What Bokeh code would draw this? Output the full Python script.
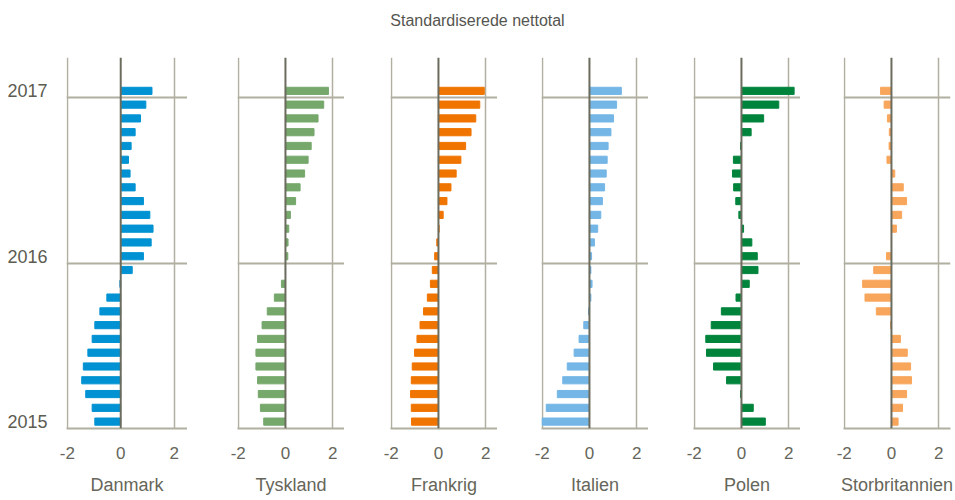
from bokeh.plotting import figure
from bokeh.layouts import column, row
from bokeh.models import Range1d, FixedTicker, Span
from bokeh.embed import file_html
from bokeh.resources import INLINE
from bokeh.core.properties import value

title_text = "Standardiserede nettotal"
countries = ["Danmark", "Tyskland", "Frankrig", "Italien", "Polen", "Storbritannien"]
colors = ["#0092d2", "#76a86c", "#f07400", "#74b6e6", "#00843c", "#f8a65c"]
months = list(range(25))  # Jan 2015 .. Jan 2017
year_ticks = [0, 12, 24]
year_labels = ["2015", "2016", "2017"]
x_ticks = [-2, 0, 2]
x_tick_labels = ["-2", "0", "2"]

danmark = [-0.97, -1.07, -1.31, -1.46, -1.40, -1.23, -1.07, -0.97, -0.78, -0.52, -0.03, 0.43,
           0.85, 1.14, 1.21, 1.09, 0.85, 0.54, 0.35, 0.29, 0.39, 0.54, 0.74, 0.94, 1.17]
tyskland = [-0.92, -1.06, -1.15, -1.18, -1.25, -1.25, -1.18, -0.99, -0.77, -0.47, -0.17, 0.0,
            0.10, 0.11, 0.14, 0.21, 0.43, 0.62, 0.81, 0.96, 1.09, 1.21, 1.38, 1.62, 1.82]
frankrig = [-1.14, -1.15, -1.18, -1.15, -1.11, -1.01, -0.91, -0.78, -0.63, -0.47, -0.34, -0.26,
            -0.16, -0.07, 0.03, 0.20, 0.36, 0.53, 0.75, 0.95, 1.15, 1.38, 1.58, 1.75, 1.94]
italien = [-2.01, -1.83, -1.36, -1.13, -0.94, -0.65, -0.44, -0.24, -0.04, 0.06, 0.11, 0.06,
           0.09, 0.21, 0.35, 0.48, 0.55, 0.64, 0.71, 0.75, 0.79, 0.91, 1.02, 1.15, 1.35]
polen = [1.01, 0.50, -0.04, -0.63, -1.18, -1.48, -1.51, -1.28, -0.85, -0.23, 0.33, 0.70,
         0.67, 0.44, 0.09, -0.11, -0.24, -0.33, -0.38, -0.34, -0.04, 0.41, 0.94, 1.58, 2.23]
storbritannien = [0.28, 0.47, 0.64, 0.85, 0.81, 0.67, 0.38, -0.04, -0.64, -1.12, -1.22, -0.75,
                  -0.21, 0.0, 0.21, 0.43, 0.64, 0.50, 0.14, -0.19, -0.10, -0.09, -0.17, -0.31, -0.46]
series = [danmark, tyskland, frankrig, italien, polen, storbritannien]

GRID = "#b1af9f"
ZERO = "#6c6c5e"
TXT = "#66665a"
FONT = "Liberation Sans"

frame_widths = [121, 107, 107, 107, 107, 107]
left_borders = [66, 50, 46, 44, 45, 43]
right_borders = [0, 0, 0, 0, 0, 4]
TITLE_H = 30
FIG_H = 469
FRAME_TOP = 57
FRAME_H = 371
TOP = FRAME_TOP - TITLE_H

panels = []
for i, (name, vals, col) in enumerate(zip(countries, series, colors)):
    p = figure(width=left_borders[i] + frame_widths[i] + right_borders[i], height=FIG_H,
               x_range=Range1d(-2.03, 2.5), y_range=Range1d(-0.5, 26.42),
               output_backend="svg", toolbar_location=None,
               min_border_left=left_borders[i], min_border_right=right_borders[i],
               min_border_top=TOP, min_border_bottom=FIG_H - TOP - FRAME_H)
    p.outline_line_color = None
    p.background_fill_color = "white"
    p.border_fill_color = "white"
    p.hbar(y=months, right=vals, left=0, height=0.52, color=col)
    p.add_layout(Span(location=0, dimension="height", line_color=ZERO, line_width=2))

    p.xgrid.ticker = FixedTicker(ticks=[-2, 2])
    p.xgrid.grid_line_color = GRID
    p.xgrid.grid_line_width = 1.5
    p.ygrid.ticker = FixedTicker(ticks=[11.5, 23.5])
    p.ygrid.grid_line_color = GRID
    p.ygrid.grid_line_width = 2

    xa = p.xaxis[0]
    xa.ticker = FixedTicker(ticks=x_ticks)
    xa.major_label_overrides = dict(zip(x_ticks, x_tick_labels))
    xa.axis_line_color = GRID
    xa.axis_line_width = 2
    xa.major_tick_line_color = None
    xa.minor_tick_line_color = None
    xa.major_tick_out = 0
    xa.major_tick_in = 0
    xa.major_label_standoff = 18
    xa.major_label_text_font = FONT
    xa.major_label_text_font_size = "17px"
    xa.major_label_text_color = TXT
    xa.axis_label = name
    xa.axis_label_standoff = 13
    xa.axis_label_text_font = FONT
    xa.axis_label_text_font_size = "18px"
    xa.axis_label_text_font_style = "normal"
    xa.axis_label_text_color = TXT

    ya = p.yaxis[0]
    if i == 0:
        ya.ticker = FixedTicker(ticks=year_ticks)
        ya.major_label_overrides = dict(zip(year_ticks, year_labels))
        ya.axis_line_color = None
        ya.major_tick_line_color = None
        ya.minor_tick_line_color = None
        ya.major_tick_out = 0
        ya.major_tick_in = 0
        ya.major_label_standoff = 19
        ya.major_label_text_font = FONT
        ya.major_label_text_font_size = "18px"
        ya.major_label_text_color = "#5c5c50"
    else:
        ya.visible = False
    panels.append(p)

total_w = sum(l + w + r for l, w, r in zip(left_borders, frame_widths, right_borders))
t = figure(width=total_w, height=TITLE_H,
           x_range=Range1d(0, 1), y_range=Range1d(0, 1),
           output_backend="svg", toolbar_location=None,
           min_border=0)
t.axis.visible = False
t.grid.visible = False
t.outline_line_color = None
t.text(x=[0.5], y=[0.33], text=[title_text], text_align="center", text_baseline="middle",
       text_font=value(FONT), text_font_size="16px", text_color="#555550")

layout = column(t, row(*panels, spacing=0), spacing=0)
open("out.html", "w").write(file_html(layout, INLINE))
